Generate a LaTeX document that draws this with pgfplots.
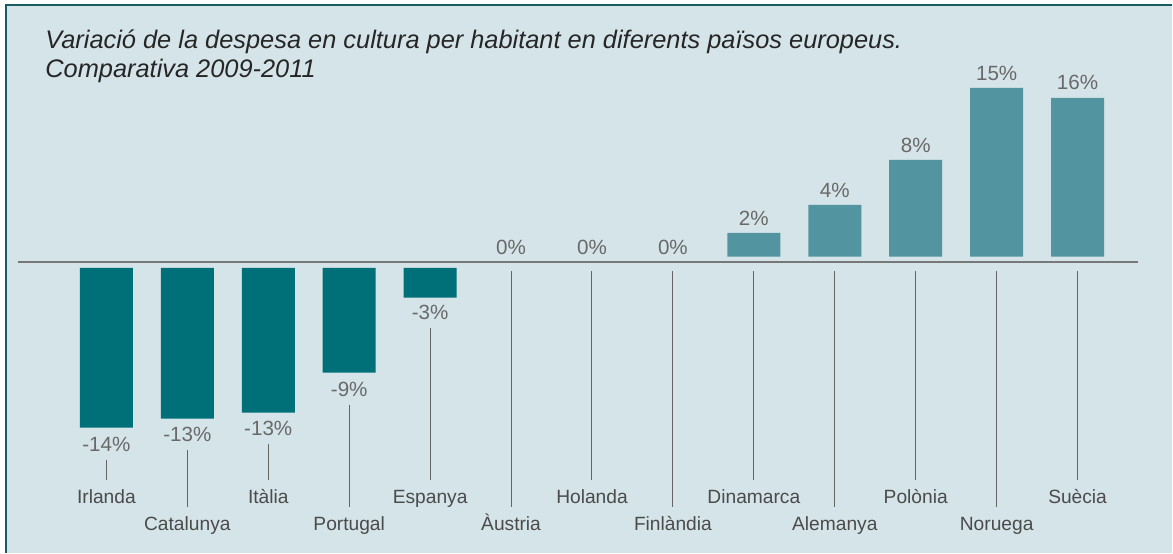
\documentclass[border=0pt]{standalone}
\usepackage{pgfplots}
\pgfplotsset{compat=1.18}
\usepackage{pgfplotstable}
\usepackage{fontspec}
\setmainfont{Liberation Sans}
\definecolor{bg}{RGB}{212,228,232}
\definecolor{framec}{RGB}{22,92,98}
\definecolor{negbar}{RGB}{0,112,120}
\definecolor{posbar}{RGB}{82,148,160}
\definecolor{valtext}{RGB}{105,105,105}
\definecolor{cattext}{RGB}{75,75,75}
\definecolor{conn}{RGB}{100,100,100}
\definecolor{basec}{RGB}{120,120,120}

% bars: offset from the base line, negative part, positive part
\pgfplotstableread{
x off neg pos
0 -0.5 -14.02 0
1 -0.5 -13.23 0
2 -0.5 -12.70 0
3 -0.5 -9.19 0
4 -0.5 -2.61 0
5 0 0 0
6 0 0 0
7 0 0 0
8 0.5 0 2.09
9 0.5 0 4.54
10 0.5 0 8.49
11 0.5 0 14.81
12 0.5 0 13.93
}\bars

\pgfplotstableread{
x y lab
0 -16.60 -14\%
1 -15.77 -13\%
2 -15.22 -13\%
3 -11.77 -9\%
4 -5.04 -3\%
5 0.72 0\%
6 0.72 0\%
7 0.72 0\%
8 3.26 2\%
9 5.68 4\%
10 9.63 8\%
11 15.92 15\%
12 15.13 16\%
}\vals

\pgfplotstableread{
x y lab
0 -21.18 Irlanda
1 -23.55 Catalunya
2 -21.18 Itàlia
3 -23.55 Portugal
4 -21.18 Espanya
5 -23.55 Àustria
6 -21.18 Holanda
7 -23.55 Finlàndia
8 -21.18 Dinamarca
9 -23.55 Alemanya
10 -21.18 Polònia
11 -23.55 Noruega
12 -21.18 Suècia
}\cats

\pgfplotsset{
  baseaxis/.style={
    at={(0,0)}, anchor=south west,
    scale only axis, width=586.5pt, height=276.5pt,
    xmin=-1.31481, xmax=13.16667, ymin=-25.482, ymax=23.026,
    axis lines=none, enlargelimits=false, clip=false,
  }
}

\begin{document}
\begin{tikzpicture}
\fill[white] (0,0) rectangle (586.5pt,276.5pt);
\fill[bg] (3.25pt,0) rectangle (586.5pt,274pt);
\draw[framec, line width=1pt] (3.25pt,0) -- (3.25pt,274pt) -- (586.5pt,274pt);

\node[anchor=base west, inner sep=0, text=black!85, font=\fontsize{12.7}{14}\selectfont\itshape] at (22.5pt,252.35pt) {Variació de la despesa en cultura per habitant en diferents països europeus.};
\node[anchor=base west, inner sep=0, text=black!85, font=\fontsize{12.7}{14}\selectfont\itshape] at (22.5pt,237.85pt) {Comparativa 2009-2011};

\begin{axis}[baseaxis, ybar stacked, bar width=26.5pt]
\addplot[draw=none, fill=none] table[x=x, y=off] {\bars};
\addplot[draw=none, fill=negbar] table[x=x, y=neg] {\bars};
\addplot[draw=none, fill=posbar] table[x=x, y=pos] {\bars};
\end{axis}

\begin{axis}[baseaxis]
\addplot[basec, line width=1pt] coordinates {(-1.0926,0) (12.747,0)};
\addplot[conn, line width=0.5pt, unbounded coords=jump] table {
x y
0 -17.32
0 -19.08
0 nan
1 -16.45
1 -21.45
1 nan
2 -15.92
2 -19.08
2 nan
3 -12.5
3 -21.45
3 nan
4 -5.75
4 -19.08
4 nan
5 -0.75
5 -21.45
5 nan
6 -0.75
6 -19.08
6 nan
7 -0.75
7 -21.45
7 nan
8 -0.75
8 -19.08
8 nan
9 -0.75
9 -21.45
9 nan
10 -0.75
10 -19.08
10 nan
11 -0.75
11 -21.45
11 nan
12 -0.75
12 -19.08
};
\addplot[draw=none, mark=none, nodes near coords, point meta=explicit symbolic,
  every node near coord/.append style={anchor=base, inner sep=0, text=valtext, font=\fontsize{10.3}{12}\selectfont}]
  table[x=x, y=y, meta=lab] {\vals};
\addplot[draw=none, mark=none, nodes near coords, point meta=explicit symbolic,
  every node near coord/.append style={anchor=base, inner sep=0, text=cattext, font=\fontsize{9.6}{12}\selectfont}]
  table[x=x, y=y, meta=lab] {\cats};
\end{axis}
\end{tikzpicture}
\end{document}
